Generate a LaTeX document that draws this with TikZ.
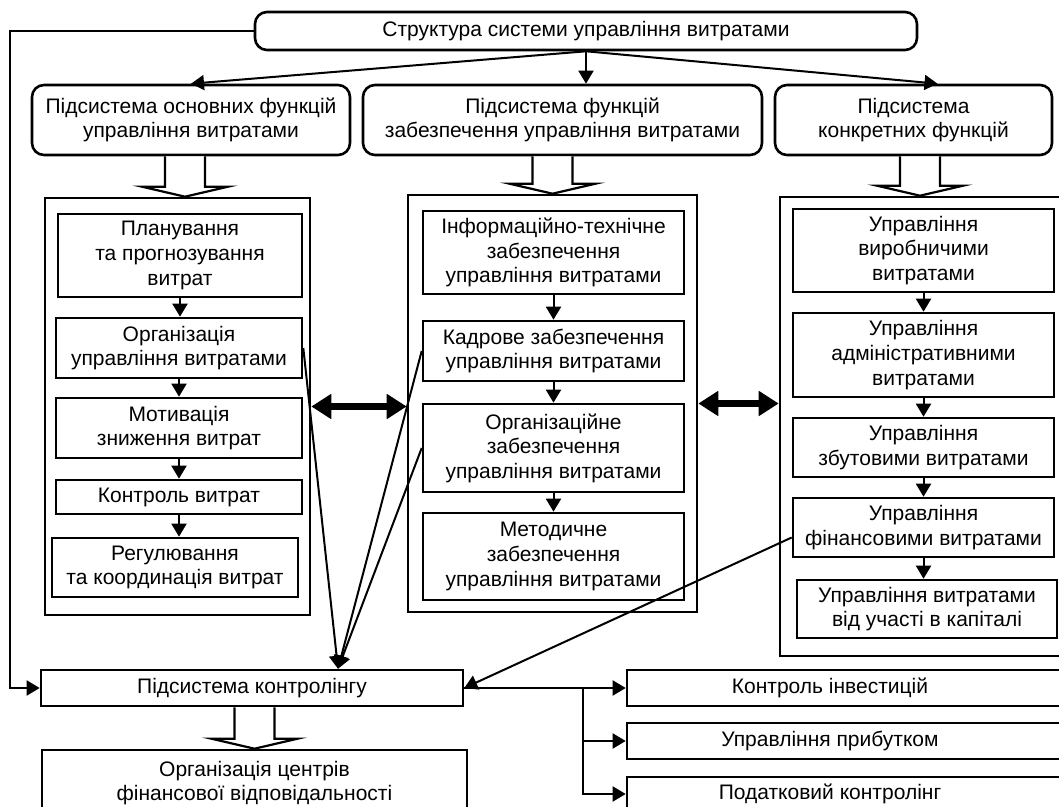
\documentclass[tikz,border=0pt]{standalone}
\usepackage{fontspec}
\setmainfont{Liberation Sans}
\usetikzlibrary{arrows.meta,calc}

\newcommand{\hollowarrow}[2]{%
  \draw[hollow] let \p1=(#1), \p2=(#2) in
    (\x2-10pt,\y1) -- (\x2-10pt,\y2+5pt) -- (\x2-21.5pt,\y2+5pt) -- (\x2,\y2)
    -- (\x2+21.5pt,\y2+5pt) -- (\x2+10pt,\y2+5pt) -- (\x2+10pt,\y1);}

\begin{document}
\begin{tikzpicture}[x=0.5pt,y=-0.5pt,
  font=\fontsize{10.5}{12.3}\selectfont,
  box/.style={draw,line width=1.3pt,align=center,inner sep=0pt},
  rbox/.style={box,rounded corners=6pt},
  frame/.style={draw,line width=1.3pt,inner sep=0pt},
  arr/.style={line width=1pt,-{Triangle[length=6.5pt,width=7.5pt]}},
  bigarr/.style={line width=3.5pt,{Triangle[length=10pt,width=12pt]}-{Triangle[length=10pt,width=12pt]}},
  hollow/.style={line width=1.1pt,fill=white,line join=miter}]
\useasboundingbox (0,0) rectangle (1059,807);
\clip (0,0) rectangle (1059,807);

\node[rbox,minimum width=331pt,minimum height=19pt] (top) at (586,31) {Структура системи управління витратами};
\node[rbox,minimum width=159pt,minimum height=35pt] (sub1) at (191,120) {Підсистема основних функцій\\управління витратами};
\node[rbox,minimum width=199.5pt,minimum height=35pt] (sub2) at (562.5,120) {Підсистема функцій\\забезпечення управління витратами};
\node[rbox,minimum width=138.5pt,minimum height=35pt] (sub3) at (913.5,120) {Підсистема\\конкретних функцій};

\node[frame,minimum width=132.5pt,minimum height=208.5pt] (cont1) at (177.5,406.5) {};
\node[frame,minimum width=144.5pt,minimum height=208.5pt] (cont2) at (552.5,403.5) {};
\node[frame,minimum width=147.5pt,minimum height=229.5pt] (cont3) at (927.5,426.5) {};

\node[box,minimum width=122pt,minimum height=41.5pt] (l1) at (180,255.5) {Планування\\та прогнозування\\витрат};
\node[box,minimum width=123pt,minimum height=30pt] (l2) at (179,348) {Організація\\управління витратами};
\node[box,minimum width=123pt,minimum height=30pt] (l3) at (179,428) {Мотивація\\зниження витрат};
\node[box,minimum width=123pt,minimum height=17pt] (l4) at (179,497) {Контроль витрат};
\node[box,minimum width=123pt,minimum height=29.5pt] (l5) at (175,567.5) {Регулювання\\та координація витрат};

\node[box,minimum width=130.5pt,minimum height=41.5pt] (m1) at (553.5,252.5) {Інформаційно-технічне\\забезпечення\\управління витратами};
\node[box,minimum width=130.5pt,minimum height=30pt] (m2) at (553.5,351) {Кадрове забезпечення\\управління витратами};
\node[box,minimum width=130.5pt,minimum height=44pt] (m3) at (553.5,448) {Організаційне\\забезпечення\\управління витратами};
\node[box,minimum width=130.5pt,minimum height=43.5pt] (m4) at (553.5,556.5) {Методичне\\забезпечення\\управління витратами};

\node[box,minimum width=130.5pt,minimum height=41.5pt] (r1) at (923.5,250.5) {Управління\\виробничими\\витратами};
\node[box,minimum width=130.5pt,minimum height=42pt] (r2) at (923.5,355) {Управління\\адміністративними\\витратами};
\node[box,minimum width=130.5pt,minimum height=29.5pt] (r3) at (923.5,447.5) {Управління\\збутовими витратами};
\node[box,minimum width=130.5pt,minimum height=29.5pt] (r4) at (923.5,527.5) {Управління\\фінансовими витратами};
\node[box,minimum width=130pt,minimum height=29pt] (r5) at (927,609) {Управління витратами\\від участі в капіталі};

\node[box,minimum width=211pt,minimum height=18pt] (ctrl) at (252,688) {Підсистема контролінгу};
\node[box,minimum width=212.5pt,minimum height=33pt] (org) at (254.5,783) {Організація центрів\\фінансової відповідальності};

\node[box,minimum width=226.5pt,minimum height=18pt] (inv) at (853.5,688) {};
\node (invtext) at (830,688) {Контроль інвестицій};
\node[box,minimum width=226.5pt,minimum height=18pt] (prof) at (853.5,741) {};
\node (proftext) at (830,741) {Управління прибутком};
\node[box,minimum width=226.5pt,minimum height=17pt] (tax) at (853.5,794) {};
\node (taxtext) at (830,794) {Податковий контролінг};

\draw[arr] (top.south) -- (sub1.north);
\draw[arr] (top.south) -- (top.south |- sub2.north);
\draw[arr] (top.south) -- ([xshift=12pt]sub3.north);
\draw[arr] (top.west) -- ++(-244,0) |- (ctrl.west);

\hollowarrow{sub1.south}{[xshift=3.75pt]cont1.north}
\hollowarrow{sub2.south}{cont2.north}
\hollowarrow{sub3.south}{[xshift=-3.75pt]cont3.north}
\hollowarrow{ctrl.south}{org.north}

\draw[arr] (l1.south) -- (l1.south |- l2.north);
\draw[arr] (l2.south) -- (l2.south |- l3.north);
\draw[arr] (l3.south) -- (l3.south |- l4.north);
\draw[arr] (l4.south) -- (l4.south |- l5.north);
\draw[arr] (m1.south) -- (m1.south |- m2.north);
\draw[arr] (m2.south) -- (m2.south |- m3.north);
\draw[arr] (m3.south) -- (m3.south |- m4.north);
\draw[arr] (r1.south) -- (r1.south |- r2.north);
\draw[arr] (r2.south) -- (r2.south |- r3.north);
\draw[arr] (r3.south) -- (r3.south |- r4.north);
\draw[arr] (r4.south) -- (r4.south |- r5.north);

\draw[bigarr] (cont1.east) -- (cont1.east -| cont2.west);
\draw[bigarr] (cont2.east) -- (cont2.east -| cont3.west);

\coordinate (meet) at ([xshift=43pt]ctrl.north);
\draw[arr] (l2.east) -- (meet);
\draw[arr] (m2.west) -- (meet);
\draw[arr] (m3.west) -- (meet);
\draw[arr] ([yshift=-5pt]r4.west) -- (ctrl.east);

\coordinate (split) at (583,688);
\draw[arr] (ctrl.east) -- (inv.west);
\draw[arr] (split) |- (prof.west);
\draw[arr] (split) |- (tax.west);
\end{tikzpicture}
\end{document}
